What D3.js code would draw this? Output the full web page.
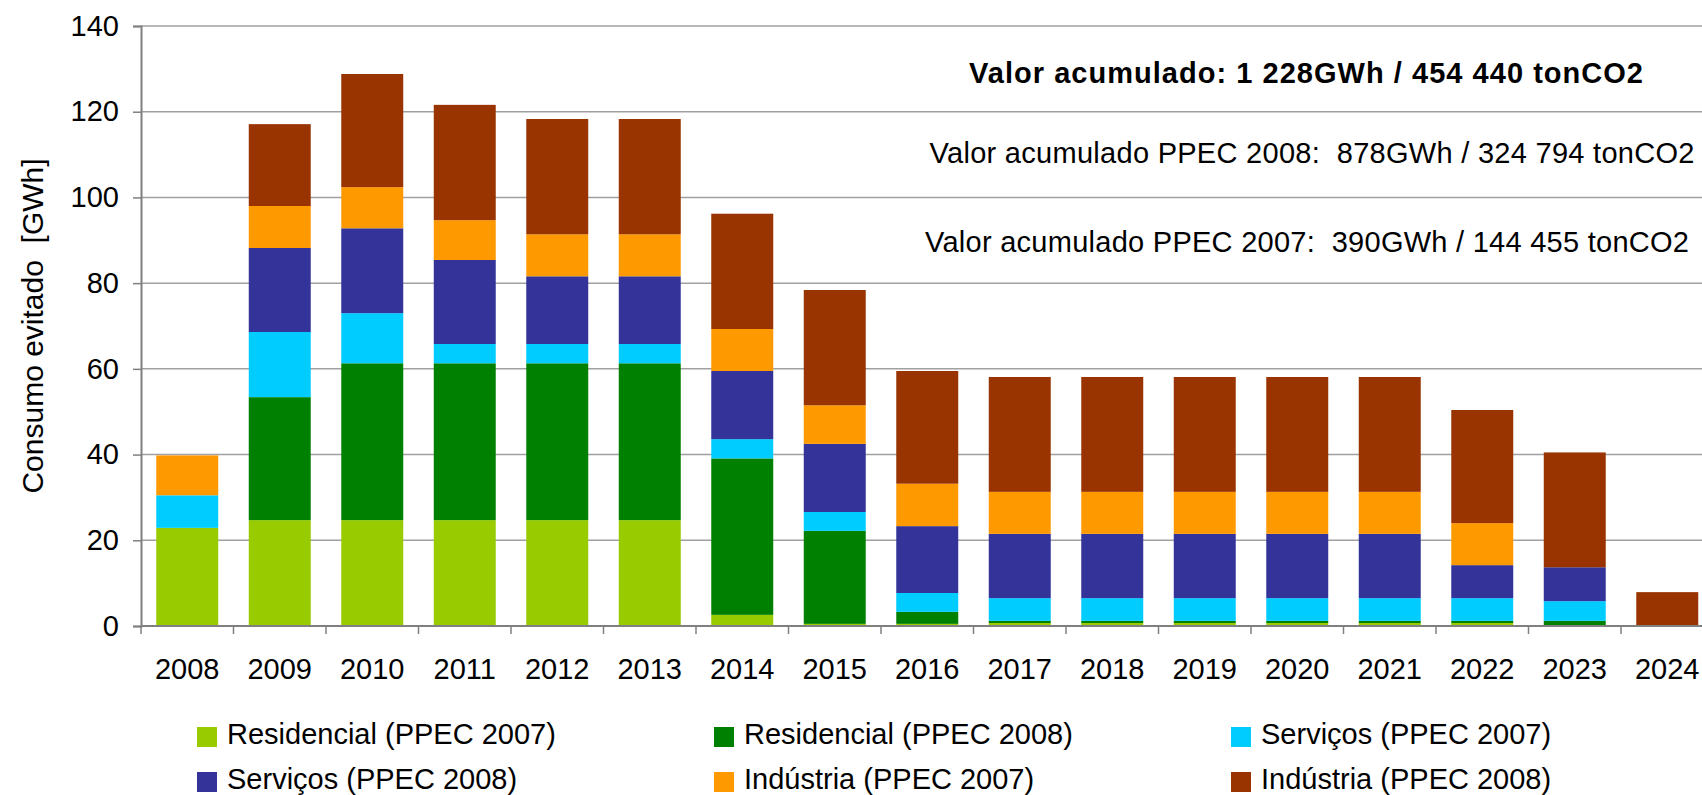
<!DOCTYPE html>
<html>
<head>
<meta charset="utf-8">
<script src="https://cdn.jsdelivr.net/npm/d3@7"></script>
<style>
  body { margin: 0; background: #fff; }
  svg { display: block; font-family: "Liberation Sans", Arial, sans-serif; }
</style>
</head>
<body>
<svg id="grafico" width="1702" height="795"></svg>
<script>
// dados (GWh)
const ANOS = ['2008','2009','2010','2011','2012','2013','2014','2015','2016',
              '2017','2018','2019','2020','2021','2022','2023','2024'];

const res2007  = [22.9, 24.7, 24.7, 24.7, 24.7, 24.7, 2.6, 0.5, 0.5, 0.7, 0.7, 0.7, 0.7, 0.7, 0.7, 0, 0];
const res2008  = [0, 28.7, 36.6, 36.6, 36.6, 36.6, 36.5, 21.7, 2.8, 0.5, 0.5, 0.5, 0.5, 0.5, 0.5, 1.2, 0];
const serv2007 = [7.6, 15.2, 11.7, 4.5, 4.5, 4.5, 4.5, 4.4, 4.4, 5.3, 5.3, 5.3, 5.3, 5.3, 5.3, 4.6, 0];
const serv2008 = [0, 19.6, 19.8, 19.6, 15.8, 15.8, 15.9, 15.9, 15.6, 15.0, 15.0, 15.0, 15.0, 15.0, 7.7, 7.9, 0];
const ind2007  = [9.3, 9.8, 9.6, 9.3, 9.8, 9.8, 9.8, 9.0, 9.9, 9.8, 9.8, 9.8, 9.8, 9.8, 9.8, 0, 0];
const ind2008  = [0, 19.1, 26.4, 26.9, 26.9, 26.9, 26.9, 26.9, 26.3, 26.8, 26.8, 26.8, 26.8, 26.8, 26.4, 26.8, 7.9];

const SERIES = ['Residencial (PPEC 2007)', 'Residencial (PPEC 2008)', 'Serviços (PPEC 2007)',
                'Serviços (PPEC 2008)', 'Indústria (PPEC 2007)', 'Indústria (PPEC 2008)'];
const CORES = ['#99cc00', '#008000', '#00ccff', '#333399', '#ff9900', '#993300'];
const Y_TICKS = [0, 20, 40, 60, 80, 100, 120, 140];

const TEXTOS = [
  { t: 'Valor acumulado: 1 228GWh / 454 440 tonCO2', bold: true },
  { t: 'Valor acumulado PPEC 2008:  878GWh / 324 794 tonCO2', bold: false },
  { t: 'Valor acumulado PPEC 2007:  390GWh / 144 455 tonCO2', bold: false }
];

// dimensões
const ESQ = 141, TOPO = 26, BASE = 626;
const LARG_CAT = 92.5;
const FONTE = 29;

const $svg = d3.select('#grafico');

const valores = [res2007, res2008, serv2007, serv2008, ind2007, ind2008];
const tabela = ANOS.map((ano, i) => {
  const o = { ano };
  SERIES.forEach((s, j) => { o[s] = valores[j][i]; });
  return o;
});
const pilha = d3.stack().keys(SERIES)(tabela);

const x = d3.scaleBand()
  .domain(ANOS)
  .range([ESQ, ESQ + LARG_CAT * ANOS.length])
  .paddingInner(0.33)
  .paddingOuter(0.165);

const y = d3.scaleLinear().domain([0, 140]).range([BASE, TOPO]);

// grelha
$svg.append('g')
  .selectAll('line')
  .data(Y_TICKS.filter(d => d > 0))
  .enter().append('line')
  .attr('x1', ESQ).attr('x2', 1702)
  .attr('y1', d => y(d)).attr('y2', d => y(d))
  .attr('stroke', '#a0a0a0').attr('stroke-width', 1.5);

// barras
$svg.append('g')
  .selectAll('g')
  .data(pilha)
  .enter().append('g')
  .attr('fill', (d, i) => CORES[i])
  .selectAll('rect')
  .data(d => d)
  .enter().append('rect')
  .attr('x', d => x(d.data.ano))
  .attr('width', x.bandwidth())
  .attr('y', d => y(d[1]))
  .attr('height', d => y(d[0]) - y(d[1]));

// eixo y
const eixoY = $svg.append('g')
  .attr('transform', `translate(${ESQ},0)`)
  .call(d3.axisLeft(y).tickValues(Y_TICKS).tickSize(8).tickPadding(14));
eixoY.select('.domain').attr('stroke', '#808080').attr('stroke-width', 2);
eixoY.selectAll('.tick line').attr('stroke', '#808080').attr('stroke-width', 1.5);
eixoY.selectAll('.tick text')
  .attr('font-size', FONTE).attr('font-family', '"Liberation Sans", Arial, sans-serif')
  .attr('fill', '#000');

// eixo x
const step = x.step();
const limites = ANOS.map(a => x(a) - x.paddingInner() * step / 2);
limites.push(limites[limites.length - 1] + step);

$svg.append('line')
  .attr('x1', ESQ).attr('x2', 1702)
  .attr('y1', BASE).attr('y2', BASE)
  .attr('stroke', '#808080').attr('stroke-width', 2);

$svg.append('g')
  .selectAll('line')
  .data(limites)
  .enter().append('line')
  .attr('x1', d => d).attr('x2', d => d)
  .attr('y1', BASE).attr('y2', BASE + 8)
  .attr('stroke', '#808080').attr('stroke-width', 1.5);

$svg.append('g')
  .selectAll('text')
  .data(ANOS)
  .enter().append('text')
  .attr('x', d => x(d) + x.bandwidth() / 2)
  .attr('y', 679)
  .attr('text-anchor', 'middle')
  .attr('font-size', FONTE)
  .text(d => d);

// título do eixo y
$svg.append('text')
  .attr('transform', `translate(43,${(TOPO + BASE) / 2}) rotate(-90)`)
  .attr('text-anchor', 'middle')
  .attr('font-size', 30)
  .attr('xml:space', 'preserve')
  .text('Consumo evitado  [GWh]');

// anotações (larguras tiradas do original)
const ANOT_X = [1306, 1312, 1307];
const ANOT_Y = [83, 163, 252];
const ANOT_W = [674, 765, 764];

$svg.append('g')
  .selectAll('text')
  .data(TEXTOS)
  .enter().append('text')
  .attr('x', (d, i) => ANOT_X[i])
  .attr('y', (d, i) => ANOT_Y[i])
  .attr('text-anchor', 'middle')
  .attr('font-size', FONTE)
  .attr('font-weight', d => d.bold ? 'bold' : 'normal')
  .attr('textLength', (d, i) => ANOT_W[i])
  .attr('xml:space', 'preserve')
  .text(d => d.t);

// legenda
const legenda = $svg.append('g')
  .selectAll('g')
  .data(SERIES)
  .enter().append('g')
  .attr('transform', (d, i) => `translate(${197 + (i % 3) * 517},${727 + Math.floor(i / 3) * 45})`);

legenda.append('rect')
  .attr('width', 20).attr('height', 20)
  .attr('fill', (d, i) => CORES[i]);

legenda.append('text')
  .attr('x', 30).attr('y', 17)
  .attr('font-size', FONTE)
  .text(d => d);
</script>
</body>
</html>
